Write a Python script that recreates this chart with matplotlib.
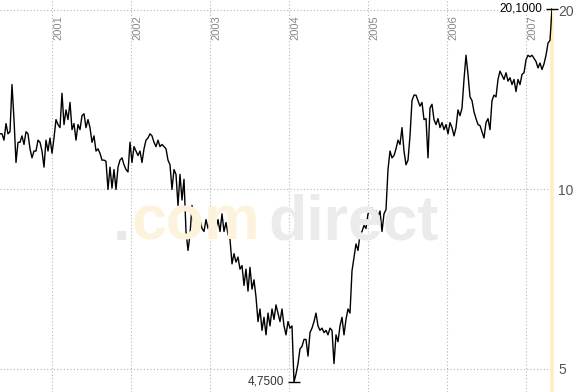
import numpy as np
import pandas as pd
import matplotlib
matplotlib.use("Agg")
from matplotlib import pyplot as plt
import matplotlib.dates as mdates
import matplotlib.transforms as mtransforms

plt.rcParams['font.family'] = ['Liberation Sans', 'DejaVu Sans']

# kurs (roughly every 9 days, May 2000 - Apr 2007)
kurs = [
    12.4, 12.4, 12.1, 12.9, 12.4, 12.5, 15.0, 13.1, 11.1, 12.0, 12.0, 12.3, 11.9,
    12.5, 12.4, 11.7, 11.3, 11.6, 11.6, 12.1, 12.0, 11.6, 10.9, 12.1, 11.6, 12.2,
    11.5, 12.2, 13.1, 12.85, 12.7, 14.5, 12.85, 13.6, 13.1, 14.0, 12.6, 12.9, 12.1,
    12.85, 12.6, 13.3, 13.4, 12.7, 13.1, 12.7, 12.0, 12.3, 11.6, 11.7, 11.5,
    11.2, 11.2, 11.15, 10.0, 10.9, 10.05, 10.8, 10.0, 10.9, 11.2, 11.3, 11.0, 10.8,
    10.7, 12.0, 11.1, 11.8, 11.6, 11.4, 11.6, 11.1, 11.7, 12.1, 12.2, 12.4,
    12.3, 12.0, 11.8, 12.1, 11.8, 11.9, 11.8, 11.7, 11.2, 11.0, 10.0, 10.8, 10.6,
    9.4, 10.6, 9.6, 10.4, 8.5, 7.9, 8.4, 9.4, 8.7, 9.1, 8.55, 8.9,
    8.6, 8.5, 8.9, 8.6, 8.8, 8.5, 9.1, 8.6, 8.9, 8.5, 9.1, 8.5, 8.8,
    8.4, 8.25, 7.5, 7.8, 7.55, 7.7, 7.35, 7.45, 6.9, 7.35, 6.75, 7.4,
    6.8, 7.05, 6.6, 6.0, 6.3, 5.8, 6.1, 5.7, 6.2, 5.9, 6.3, 6.05, 6.4,
    6.2, 6.0, 6.3, 5.9, 5.7, 6.0, 5.85, 5.9, 4.75, 4.9, 5.1, 5.4,
    5.45, 5.6, 5.6, 5.25, 5.75, 5.85, 6.0, 6.2, 5.9, 5.8, 5.85, 5.75, 5.8,
    5.7, 5.85, 5.8, 5.1, 5.7, 5.55, 5.9, 6.1, 5.7, 6.05, 6.3, 6.2,
    7.3, 7.7, 8.1, 7.9, 8.4, 8.5, 8.7, 8.6, 9.1, 9.2, 9.3, 8.8, 9.2,
    9.0, 9.2, 8.5, 9.1, 9.25, 10.8, 11.6, 11.3, 11.4, 11.7, 12.1, 11.9,
    12.7, 11.6, 11.0, 11.2, 12.3, 14.1, 14.4, 14.4, 14.1, 13.8, 14.0, 13.1, 13.15,
    11.3, 13.7, 13.9, 13.1, 12.85, 13.15, 12.7, 12.95, 12.6, 12.85, 12.4, 12.95,
    12.7, 12.3, 12.7, 13.6, 13.3, 13.7, 15.3, 16.8, 15.6, 14.3, 14.1, 13.5, 13.15,
    12.85, 12.8, 12.5, 12.2, 12.95, 13.15, 12.6, 14.1, 14.4, 14.3, 15.3, 15.8,
    15.55, 15.3, 15.7, 15.2, 15.4, 15.0, 15.3, 14.6, 15.3, 15.0, 15.6, 15.7, 16.5,
    16.8, 16.7, 16.8, 16.6, 16.4, 16.0, 16.3, 15.9, 16.25, 16.8, 17.6, 17.8, 20.1,
]
datum = pd.date_range('2000-05-05', '2007-04-30', periods=len(kurs))
jahre = [2001, 2002, 2003, 2004, 2005, 2006, 2007]
y_ticks = [5, 10, 20]

fig = plt.figure(figsize=(5.8, 3.92), dpi=100)
ax = fig.add_axes([0, 0, 552 / 580, 1])

# watermark
wm = dict(fontsize=45, fontweight='bold', transform=fig.transFigure,
          va='baseline', ha='left', zorder=0)
fig.text(113 / 580, 1 - 240 / 392, '.', color='#e8e8e8', **wm)
fig.text(131 / 580, 1 - 240 / 392, 'com', color='#fdf3dd', **wm)
fig.text(268 / 580, 1 - 240 / 392, 'direct', color='#ebebeb', **wm)

ax.set_facecolor('none')
ax.set_yscale('log')
ax.set_ylim(4.57, 20.8)
ax.set_xlim(datum[0], datum[-1])

# last day highlight
ax.vlines(datum[-1], 4.57, kurs[-1], color='#fdefc0', lw=2.6, zorder=2, clip_on=False)

ax.plot(datum, kurs, color='black', lw=1.0, zorder=3)

# hoch / tief markers
i_min = int(np.argmin(kurs))
for i, c in [(i_min, '#333333'), (len(kurs) - 1, 'black')]:
    ax.plot(datum[i], kurs[i], marker='_', ms=9, mew=1.0, color='black',
            zorder=4, clip_on=False)
    ax.annotate(f"{kurs[i]:.4f}".replace('.', ','), (datum[i], kurs[i]),
                xytext=(-7, 0.5), textcoords='offset points', ha='right',
                va='center', fontsize=8.5, color=c,
                bbox=dict(fc='white', ec='none', pad=0), zorder=5)

ax.yaxis.tick_right()
ax.set_yticks(y_ticks)
ax.set_yticklabels([str(t) for t in y_ticks])
ax.yaxis.set_minor_locator(matplotlib.ticker.NullLocator())
ax.tick_params(axis='y', length=0, pad=4.5, labelsize=10, labelcolor='#555555')
ax.xaxis.set_major_locator(mdates.YearLocator())
ax.tick_params(axis='x', length=0, labelbottom=False)
ax.grid(True, color='#b5b5b5', linestyle=(0, (1, 2)), lw=0.8)
for s in ax.spines.values():
    s.set_visible(False)

trans = mtransforms.blended_transform_factory(ax.transData, ax.transAxes)
for j in jahre:
    ax.text(mdates.date2num(pd.Timestamp(f'{j}-01-01')) + 4, 1 - 15 / 392, str(j),
            rotation=90, ha='left', va='top', fontsize=8, color='#888888',
            transform=trans)

fig.savefig('out.png', dpi=100)
